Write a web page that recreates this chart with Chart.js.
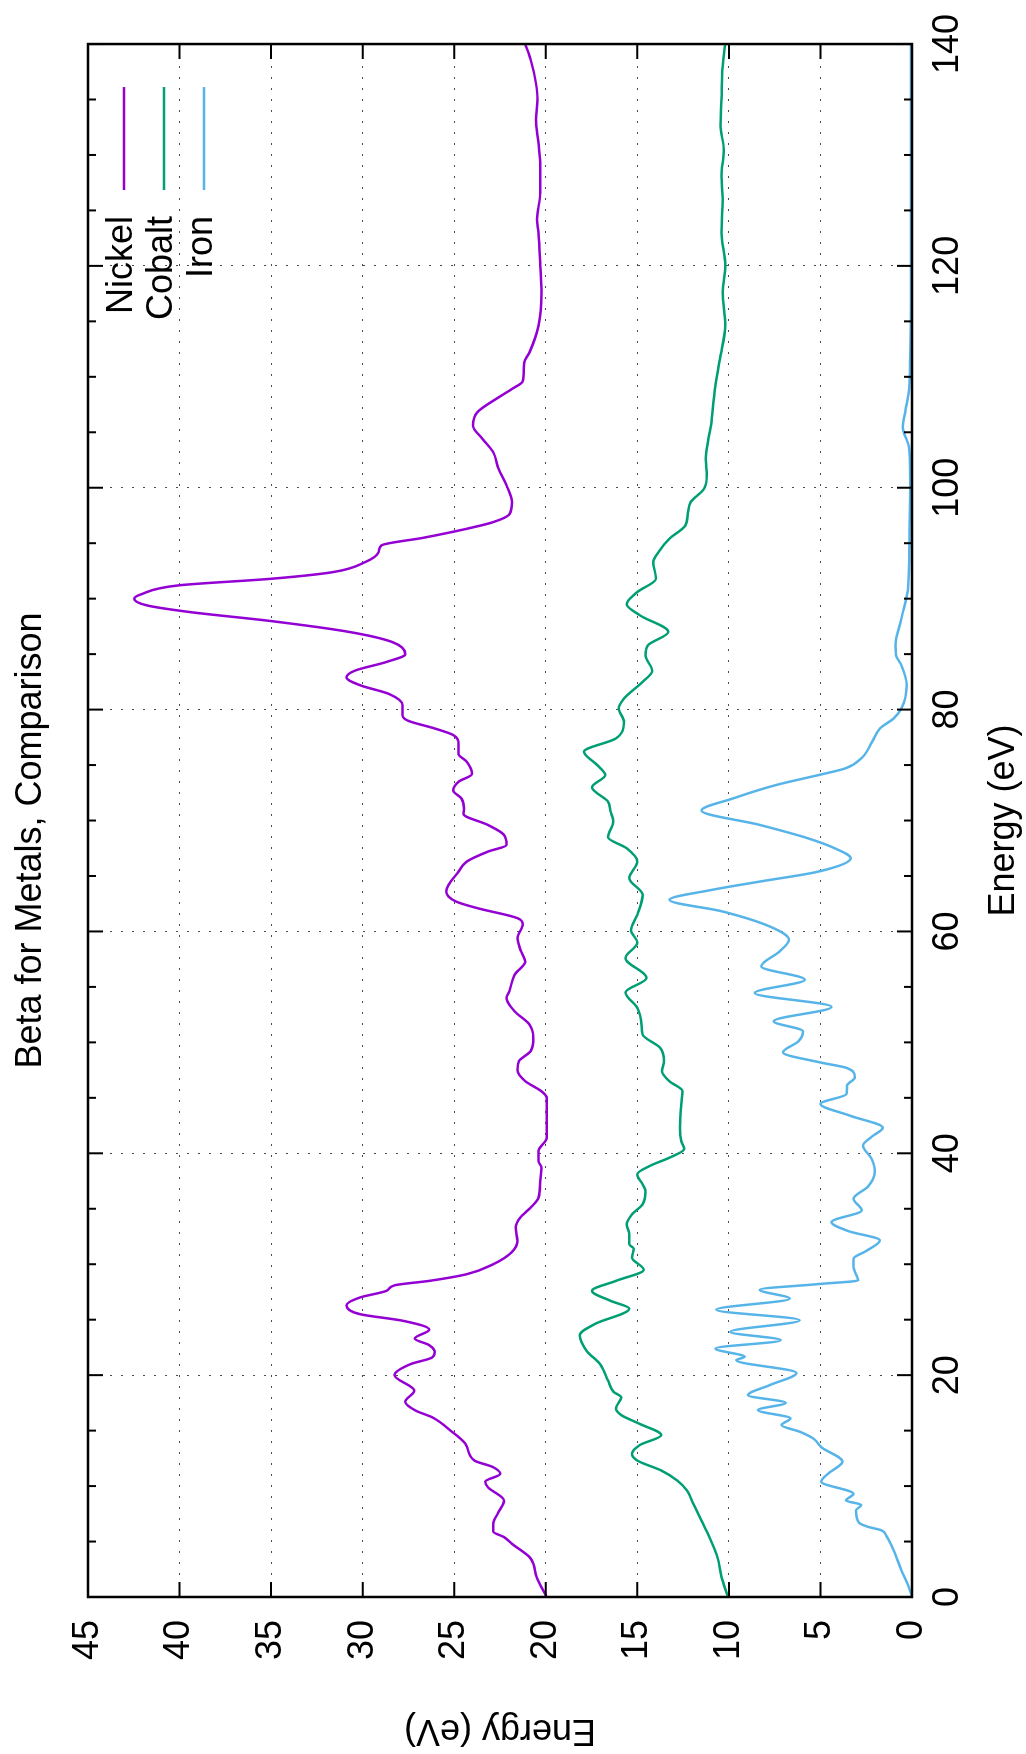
<!DOCTYPE html>
<html>
<head>
<meta charset="utf-8">
<title>Beta for Metals, Comparison</title>
<script src="https://cdn.jsdelivr.net/npm/chart.js@4.4.1/dist/chart.umd.min.js"></script>
<style>
  html, body { margin: 0; padding: 0; background: #fff; overflow: hidden; }
  #page { position: relative; width: 1026px; height: 1754px; }
  /* the gnuplot output is landscape turned on its side */
  #turn { position: absolute; left: 0; top: 0; width: 1754px; height: 1026px;
          transform-origin: 0 0; transform: translateY(1754px) rotate(-90deg); }
</style>
</head>
<body>
<div id="page"><div id="turn"><canvas id="betaChart" width="1754" height="1026"></canvas></div></div>
<script>
//Nickel
var nickelEnergy = [0, 1.8, 3.0, 3.6, 4.8, 5.4, 5.9, 6.6, 7.6, 8.7,
  9.9, 10.4, 11.1, 11.7, 12.3, 13.8, 15.0, 16.2, 16.8, 17.6,
  18.6, 20.0, 21.0, 21.6, 22.1, 22.7, 23.3, 24.1, 24.9, 25.5,
  26.3, 27.0, 27.6, 28.1, 28.5, 29.1, 30.0, 31.1, 32.1, 33.3,
  34.2, 35.1, 36.0, 37.5, 38.7, 39.3, 40.2, 41.4, 43.5, 45.0,
  45.6, 46.5, 47.5, 48.3, 49.2, 50.4, 51.6, 52.8, 54.0, 54.6,
  56.1, 57.3, 58.2, 59.4, 60.6, 61.2, 62.1, 62.7, 63.6, 65.4,
  66.3, 67.2, 67.8, 68.7, 69.6, 70.6, 71.1, 72.0, 72.7, 73.5,
  74.2, 75.3, 76.0, 76.9, 77.7, 78.3, 79.0, 79.5, 80.4, 81.4,
  82.2, 82.9, 83.5, 84.3, 85.0, 86.1, 87.0, 88.0, 88.8, 89.4,
  90.0, 90.4, 91.2, 91.8, 92.4, 93.3, 94.2, 94.8, 95.5, 96.3,
  96.9, 97.6, 98.7, 100.2, 101.7, 103.2, 104.4, 105.6, 106.8, 108.0,
  108.9, 109.6, 111.3, 112.2, 114.6, 117.6, 120.0, 123.0, 124.2, 126.6,
  129.0, 131.1, 133.2, 135.0, 136.5, 138.6, 140.0];
var nickelBeta = [19.95, 20.5, 20.68, 20.89, 21.85, 22.28, 22.87, 22.87, 22.6, 22.28,
  23.16, 23.3, 22.49, 22.87, 23.89, 24.38, 25.2, 26.2, 27.1, 27.67,
  27.18, 28.26, 27.38, 26.2, 26.07, 26.36, 27.15, 26.36, 27.8, 30.15,
  30.88, 30.15, 28.7, 28.26, 26.36, 24.32, 22.87, 21.85, 21.55, 21.64,
  21.4, 20.83, 20.4, 20.3, 20.24, 20.4, 20.4, 19.95, 19.95, 19.95,
  20.24, 21.12, 21.55, 21.47, 20.83, 20.68, 20.89, 21.7, 22.14, 21.99,
  21.7, 21.12, 21.35, 21.55, 21.26, 21.55, 23.74, 24.9, 25.43, 24.76,
  24.32, 23.16, 22.14, 22.28, 23.16, 24.5, 24.47, 24.61, 25.05, 24.76,
  24.03, 24.32, 24.76, 24.76, 25.05, 26.07, 27.53, 27.82, 27.82, 28.55,
  30.15, 30.88, 30.44, 28.69, 27.67, 28.4, 30.73, 35.1, 39.47, 41.8,
  42.47, 42.09, 40.05, 34.95, 31.6, 29.86, 29.13, 28.98, 26.65, 24.32,
  22.87, 21.99, 21.85, 22.14, 22.58, 22.87, 23.45, 23.97, 23.74, 22.72,
  21.85, 21.26, 21.18, 20.89, 20.4, 20.24, 20.3, 20.4, 20.48, 20.3,
  20.3, 20.4, 20.54, 20.45, 20.54, 20.83, 21.12];

//Cobalt
var cobaltEnergy = [0, 1.8, 3.6, 5.4, 6.9, 8.4, 9.6, 10.5, 11.4, 12.3,
  12.9, 13.7, 14.6, 15.6, 16.4, 17.0, 18.0, 18.5, 19.5, 21.0,
  22.2, 23.6, 24.6, 26.0, 26.7, 27.6, 28.5, 29.5, 30.6, 31.4,
  31.8, 32.7, 33.6, 34.5, 35.4, 36.6, 37.2, 38.1, 38.9, 39.6,
  40.4, 41.1, 42.3, 44.4, 45.6, 46.5, 47.4, 48.3, 49.5, 50.7,
  51.6, 53.1, 54.5, 55.8, 57.6, 59.0, 60.1, 61.5, 63.3, 64.8,
  66.3, 67.5, 68.5, 69.9, 70.8, 71.7, 73.0, 74.1, 75.0, 76.2,
  77.4, 78.9, 80.1, 81.0, 82.5, 83.5, 84.9, 85.8, 87.0, 88.5,
  89.5, 90.6, 91.8, 93.3, 94.2, 95.4, 96.6, 97.8, 98.7, 99.9,
  101.1, 102.6, 105.6, 108.6, 111.6, 114.6, 117.6, 120.0, 123.0, 126.0,
  128.1, 130.5, 132.6, 135.0, 138.0, 140.0];
var cobaltBeta = [10.05, 10.4, 10.63, 11.07, 11.5, 11.94, 12.29, 12.82, 13.69, 15.0,
  15.29, 14.86, 13.69, 14.86, 15.88, 16.17, 15.88, 16.3, 16.6, 17.04,
  17.77, 18.15, 17.33, 15.44, 16.46, 17.48, 16.17, 14.65, 15.29, 15.2,
  15.44, 15.44, 15.58, 15.29, 14.71, 14.56, 14.71, 15.0, 14.27, 13.25,
  12.44, 12.6, 12.67, 12.6, 12.53, 13.25, 13.65, 13.55, 13.75, 14.71,
  14.77, 15.0, 15.64, 14.5, 15.64, 15.0, 15.35, 15.0, 14.71, 15.44,
  15.0, 15.58, 16.6, 16.31, 16.46, 16.6, 17.48, 16.75, 17.19, 17.91,
  16.17, 15.73, 16.02, 15.73, 14.71, 14.19, 14.56, 14.42, 13.31, 14.86,
  15.58, 15.0, 13.98, 14.13, 13.84, 13.25, 12.38, 12.23, 12.09, 11.36,
  11.21, 11.27, 10.98, 10.78, 10.49, 10.2, 10.34, 10.2, 10.4, 10.34,
  10.4, 10.28, 10.46, 10.4, 10.34, 10.2];

//Iron
var ironEnergy = [0, 1.0, 2.4, 4.2, 5.5, 6.0, 6.35, 6.7, 7.8, 8.3,
  8.7, 9.3, 10.4, 11.1, 12.2, 13.5, 14.3, 14.9, 15.5, 16.1,
  16.85, 17.5, 18.2, 19.1, 20.2, 21.35, 21.65, 22.4, 23.15, 23.9,
  24.95, 25.9, 26.9, 27.7, 28.2, 28.55, 29.0, 29.75, 30.5, 31.2,
  32.15, 33.0, 33.8, 34.85, 35.9, 37.0, 38.3, 39.5, 40.7, 41.5,
  42.3, 43.4, 44.45, 45.35, 46.1, 46.85, 47.7, 48.2, 49.1, 50.1,
  51.0, 51.9, 53.2, 54.45, 55.65, 56.85, 58.2, 59.25, 60.45, 61.8,
  62.85, 63.75, 64.5, 65.4, 66.6, 67.5, 68.4, 69.6, 70.9, 72.0,
  73.2, 74.1, 74.7, 75.6, 77.1, 78.3, 79.2, 80.1, 82.2, 84.0,
  84.9, 85.8, 88.2, 91.2, 94.2, 100.0, 103.5, 105.5, 107.0, 109.0,
  112.0, 120.0, 130.0, 140.0];
var ironBeta = [0.0, 0.2, 0.58, 1.0, 1.4, 1.65, 2.45, 2.9, 3.06, 2.77,
  3.6, 3.2, 4.95, 4.6, 3.8, 4.95, 5.4, 6.13, 7.13, 6.64,
  8.41, 6.9, 8.96, 7.77, 6.31, 9.6, 9.14, 10.73, 7.17, 9.92,
  6.13, 10.69, 6.68, 8.32, 5.2, 2.94, 3.03, 3.2, 3.2, 2.5,
  1.76, 3.5, 4.4, 2.75, 3.2, 2.4, 2.03, 2.21, 2.67, 2.2,
  1.6, 3.4, 5.0, 3.58, 3.55, 3.12, 3.58, 5.04, 7.04, 6.2,
  5.95, 7.55, 4.4, 8.59, 5.86, 8.23, 7.23, 6.72, 7.77, 10.34,
  13.25, 10.92, 8.3, 5.1, 3.35, 4.22, 5.68, 8.3, 11.5, 9.76,
  7.43, 5.1, 3.64, 2.77, 2.18, 1.75, 1.0, 0.58, 0.29, 0.58,
  0.87, 0.9, 0.58, 0.2, 0.15, 0.1, 0.15, 0.5, 0.35, 0.15,
  0.1, 0.05, 0.05, 0.05];

var seriesNames = ['Nickel', 'Cobalt', 'Iron'];
var seriesColors = ['#9400d3', '#009e73', '#56b4e9'];
var chartTitle = 'Beta for Metals, Comparison';

var fontFamily = '"Liberation Sans", Arial, Helvetica, sans-serif';
var textSize = 36;

function toPoints(xs, ys) {
  return xs.map(function (e, i) { return {x: e, y: ys[i]}; });
}

function makeSet(i, xs, ys) {
  return {
    label: seriesNames[i],
    data: toPoints(xs, ys),
    showLine: true,
    borderColor: seriesColors[i],
    backgroundColor: seriesColors[i],
    borderWidth: 2.5,
    pointRadius: 0,
    cubicInterpolationMode: 'monotone',
    borderJoinStyle: 'round'
  };
}

//inward ticks on all four sides + the box, gnuplot style
var gnuFrame = {
  id: 'gnuFrame',
  afterDraw: function (chart) {
    var ctx = chart.ctx, a = chart.chartArea, sx = chart.scales.x, sy = chart.scales.y;
    ctx.save();
    ctx.strokeStyle = '#000';
    ctx.lineWidth = 2;
    ctx.beginPath();
    for (var e = sx.min; e <= sx.max; e += 5) {
      var px = sx.getPixelForValue(e);
      var len = (e % 20 === 0) ? 15 : 8;
      ctx.moveTo(px, a.bottom); ctx.lineTo(px, a.bottom - len);
      ctx.moveTo(px, a.top); ctx.lineTo(px, a.top + len);
    }
    sy.ticks.forEach(function (t) {
      var py = sy.getPixelForValue(t.value);
      ctx.moveTo(a.left, py); ctx.lineTo(a.left + 15, py);
      ctx.moveTo(a.right, py); ctx.lineTo(a.right - 15, py);
    });
    ctx.stroke();
    ctx.lineWidth = 2.5;
    ctx.strokeRect(a.left, a.top, a.right - a.left, a.bottom - a.top);
    ctx.restore();
  }
};

//title, sits a little left of the box centre like the original
var gnuTitle = {
  id: 'gnuTitle',
  afterDraw: function (chart) {
    var ctx = chart.ctx, a = chart.chartArea;
    ctx.save();
    ctx.font = textSize + 'px ' + fontFamily;
    ctx.textAlign = 'center';
    ctx.textBaseline = 'alphabetic';
    ctx.fillStyle = '#000';
    ctx.fillText(chartTitle, (a.left + a.right) / 2 - 20, 41);
    ctx.restore();
  }
};

//key: text then line sample, top right inside the box
var gnuKey = {
  id: 'gnuKey',
  afterDatasetsDraw: function (chart) {
    var ctx = chart.ctx, a = chart.chartArea;
    ctx.save();
    ctx.font = textSize + 'px ' + fontFamily;
    ctx.textAlign = 'right';
    ctx.textBaseline = 'alphabetic';
    ctx.fillStyle = '#000';
    chart.data.datasets.forEach(function (ds, i) {
      var yy = a.top + 36 + i * 40;
      ctx.fillText(ds.label, a.right - 172, yy + 8);
      ctx.strokeStyle = ds.borderColor;
      ctx.lineWidth = 2.5;
      ctx.beginPath();
      ctx.moveTo(a.right - 146, yy);
      ctx.lineTo(a.right - 43, yy);
      ctx.stroke();
    });
    ctx.restore();
  }
};

var ctx = document.getElementById('betaChart');
var betaChart = new Chart(ctx, {
  type: 'scatter',
  data: {
    datasets: [
      makeSet(0, nickelEnergy, nickelBeta),
      makeSet(1, cobaltEnergy, cobaltBeta),
      makeSet(2, ironEnergy, ironBeta)
    ]
  },
  options: {
    responsive: false,
    animation: false,
    events: [],
    layout: { padding: { left: 0, right: 41, top: 88, bottom: 0 } },
    plugins: {
      legend: { display: false },
      tooltip: { enabled: false },
      title: { display: false }
    },
    scales: {
      x: {
        type: 'linear',
        min: 0,
        max: 140,
        ticks: { stepSize: 20, color: '#000', padding: 14,
                 font: { family: fontFamily, size: textSize } },
        grid: { color: 'rgba(0,0,0,0.7)', lineWidth: 1, drawTicks: false },
        border: { display: false, dash: [2, 9] },
        title: { display: true, text: 'Energy (eV)', color: '#000',
                 font: { family: fontFamily, size: textSize },
                 padding: { top: 0, bottom: 0 } },
        afterFit: function (s) { s.height = 114; }
      },
      y: {
        min: 0,
        max: 45,
        ticks: { stepSize: 5, color: '#000', padding: 23,
                 font: { family: fontFamily, size: textSize } },
        grid: { color: 'rgba(0,0,0,0.7)', lineWidth: 1, drawTicks: false },
        border: { display: false, dash: [2, 9] },
        title: { display: true, text: 'Energy (eV)', color: '#000',
                 font: { family: fontFamily, size: textSize },
                 padding: { top: 2, bottom: 0 } },
        afterFit: function (s) { s.width = 157; }
      }
    }
  },
  plugins: [gnuFrame, gnuKey, gnuTitle]
});
</script>
</body>
</html>
